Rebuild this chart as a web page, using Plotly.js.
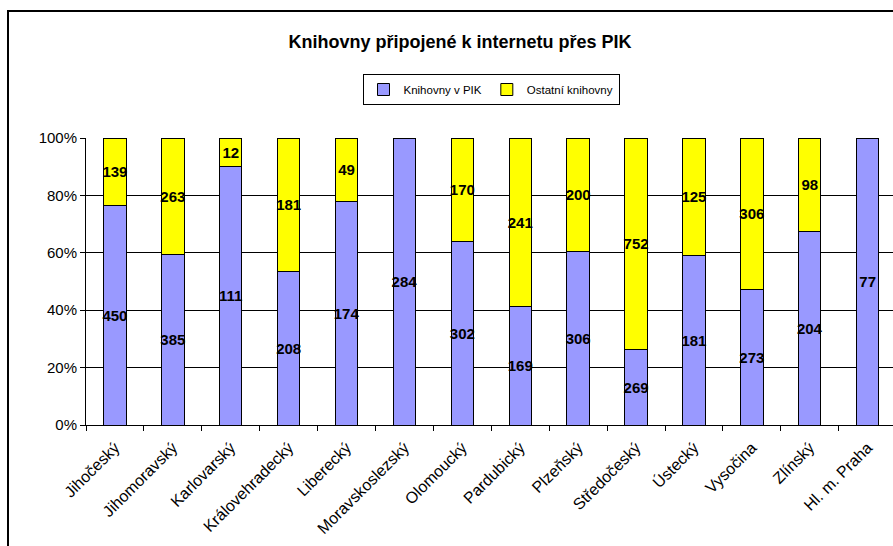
<!DOCTYPE html>
<html>
<head>
<meta charset="utf-8">
<script src="https://cdn.plot.ly/plotly-3.0.1.min.js"></script>
<style>html,body{margin:0;padding:0;background:#fff;}#chart{width:893px;height:546px;}</style>
</head>
<body>
<div id="chart"></div>
<script>
const regions = ["Jihočeský","Jihomoravský","Karlovarský","Královehradecký","Liberecký","Moravskoslezský","Olomoucký","Pardubický","Plzeňský","Středočeský","Ústecký","Vysočina","Zlínský","Hl. m. Praha"];
const knihovnyPIK = [450,385,111,208,174,284,302,169,306,269,181,273,204,77];
const ostatni = [139,263,12,181,49,0,170,241,200,752,125,306,98,0];
const seriesNames = ["Knihovny v PIK","Ostatní knihovny"];
const chartTitle = "Knihovny připojené k internetu přes PIK";

const FONT = "Liberation Sans, Arial, sans-serif";
const lbl = v => v.map(x => x > 0 ? String(x) : "");

function barTrace(name, vals, color) {
  return {
    type: "bar", name: name, x: regions, y: vals,
    text: lbl(vals), textposition: "inside", insidetextanchor: "middle",
    constraintext: "none", textangle: 0,
    textfont: {family: FONT, size: 15, color: "#000", weight: "bold"},
    marker: {color: color, line: {color: "#000", width: 1}},
    hoverinfo: "skip"
  };
}

const data = [
  barTrace(seriesNames[0], knihovnyPIK, "#9999FF"),
  barTrace(seriesNames[1], ostatni, "#FFFF00")
];

const L = 86, T = 138, B = 121, W = 893, H = 546;
const pw = W - L, ph = H - T - B;
const px = p => (p - L) / pw;
const py = p => (H - B - p) / ph;

const layout = {
  width: W, height: H,
  margin: {l: L, r: 0, t: T, b: B, pad: 0},
  paper_bgcolor: "#fff", plot_bgcolor: "#fff",
  barmode: "stack", barnorm: "percent", bargap: 0.613,
  font: {family: FONT, size: 13, color: "#000"},
  title: {text: "<b>" + chartTitle + "</b>", font: {family: FONT, size: 18, color: "#000"},
          xref: "container", yref: "container", x: 460/W, xanchor: "center", y: 1 - 42/H, yanchor: "middle"},
  showlegend: true,
  legend: {orientation: "h", traceorder: "normal", xref: "container", yref: "container", x: 491/W, xanchor: "center",
           y: 1 - 74/H, yanchor: "top", bordercolor: "#000", borderwidth: 1,
           font: {family: FONT, size: 11.5, color: "#000"}, itemwidth: 30, tracegroupgap: 0},
  xaxis: {
    type: "category", range: [-0.5, -0.5 + pw / 57.9],
    showline: true, linecolor: "#000", linewidth: 1,
    ticks: "outside", ticklen: 5, tickcolor: "#000", tickson: "boundaries",
    tickangle: -45, ticklabelstandoff: 6, tickfont: {family: FONT, size: 16, color: "#000"},
    showgrid: false, fixedrange: true
  },
  yaxis: {
    range: [0, 100], dtick: 20, ticksuffix: "%",
    showline: true, linecolor: "#000", linewidth: 1,
    ticks: "outside", ticklen: 5, tickcolor: "#000",
    showgrid: true, gridcolor: "#000", gridwidth: 1, zeroline: false,
    tickfont: {family: FONT, size: 15, color: "#000"}, fixedrange: true
  },
  shapes: [{
    type: "path", xref: "paper", yref: "paper",
    path: "M " + px(8) + " " + py(560) + " L " + px(8) + " " + py(11) + " L " + px(900) + " " + py(11),
    line: {color: "#000", width: 2}
  }]
};

Plotly.newPlot("chart", data, layout, {displayModeBar: false, staticPlot: true});
</script>
</body>
</html>
